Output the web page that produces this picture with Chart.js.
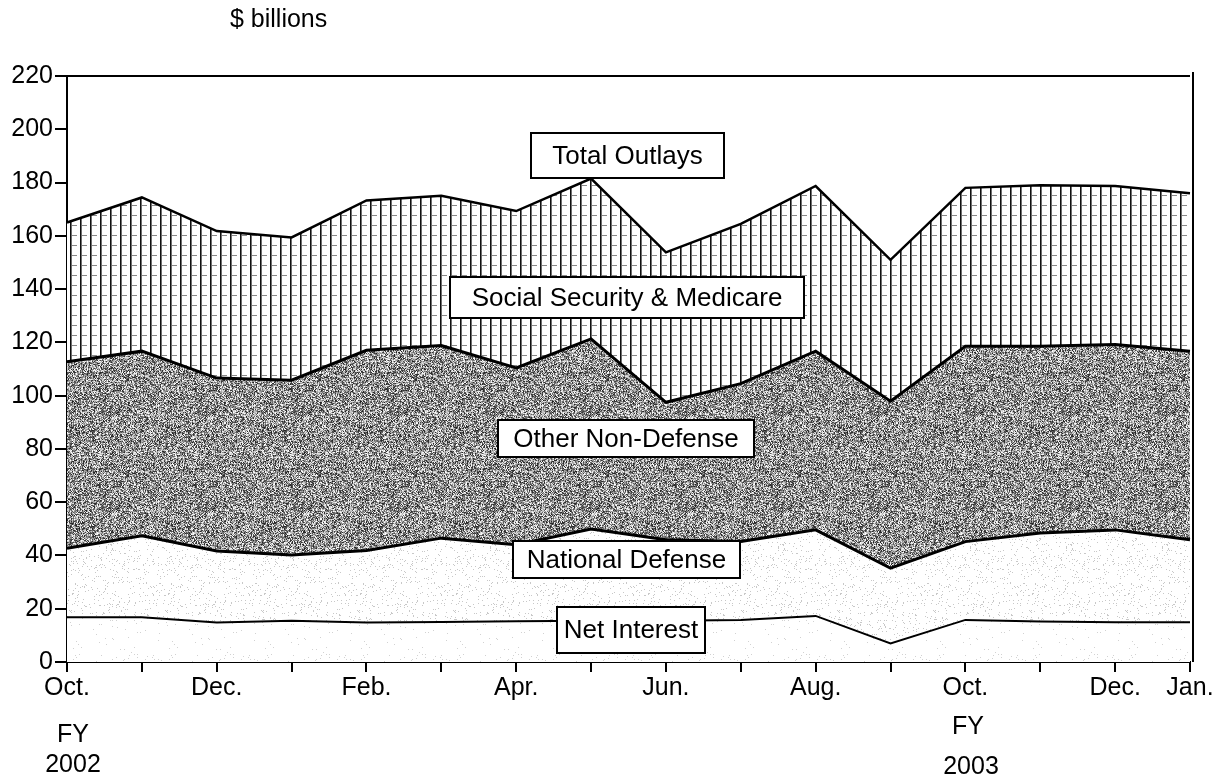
<!DOCTYPE html>
<html>
<head>
<meta charset="utf-8">
<script src="https://cdn.jsdelivr.net/npm/chart.js@4/dist/chart.umd.min.js"></script>
<style>
  body { margin: 0; background: #fff; }
  canvas { display: block; }
</style>
</head>
<body>
<canvas id="myChart" width="1224" height="779"></canvas>
<script>
// setup
const months = ['Oct.', '', 'Dec.', '', 'Feb.', '', 'Apr.', '', 'Jun.', '', 'Aug.', '', 'Oct.', '', 'Dec.', 'Jan.'];
const yTicks = [0, 20, 40, 60, 80, 100, 120, 140, 160, 180, 200, 220];

// $ billions per month, Oct FY2002 .. Jan FY2003
const netInterest = [16.8, 16.8, 14.8, 15.5, 14.8, 15.0, 15.3, 15.5, 15.5, 15.8, 17.3, 7.0, 15.8, 15.2, 14.9, 14.9];
const nationalDefense = [25.9, 30.6, 26.9, 24.7, 27.1, 31.5, 28.7, 34.4, 30.4, 29.4, 32.3, 28.2, 29.4, 33.2, 34.7, 31.0];
const otherNonDefense = [70.0, 69.3, 64.9, 65.6, 75.1, 72.3, 66.4, 71.4, 51.6, 59.3, 67.1, 62.7, 73.3, 70.1, 69.6, 70.8];
const socialSecurity = [52.3, 57.7, 55.2, 53.6, 56.3, 56.2, 58.9, 60.2, 56.3, 60.0, 62.0, 53.1, 59.5, 60.5, 59.5, 59.3];

const FONT = "'Liberation Sans', Arial, Helvetica, sans-serif";

// fill textures
function hash(x, y) {
    let h = (x * 374761393 + y * 668265263) | 0;
    h = (h ^ (h >>> 13)) * 1274126177;
    return ((h ^ (h >>> 16)) >>> 0) / 4294967295;
}

function noiseTile(size, base, spread, darkProb) {
    const c = document.createElement('canvas');
    c.width = size; c.height = size;
    const g = c.getContext('2d');
    const img = g.createImageData(size, size);
    for (let y = 0; y < size; y++) {
        for (let x = 0; x < size; x++) {
            const r = hash(x, y);
            let v = 255;
            if (darkProb < 1) {
                v = r < darkProb ? base : 255;
            } else {
                v = base + (r - 0.5) * spread;
            }
            const i = (y * size + x) * 4;
            img.data[i] = img.data[i + 1] = img.data[i + 2] = Math.max(0, Math.min(255, v));
            img.data[i + 3] = 255;
        }
    }
    g.putImageData(img, 0, 0);
    return c;
}

function gridTile() {
    const c = document.createElement('canvas');
    c.width = 10; c.height = 10;
    const g = c.getContext('2d');
    g.fillStyle = '#fff';
    g.fillRect(0, 0, 10, 10);
    g.fillStyle = '#888';
    g.fillRect(2, 5, 5, 1);
    g.fillStyle = '#111';
    g.fillRect(0, 0, 1.6, 10);
    return c;
}

const ctx = document.getElementById('myChart').getContext('2d');
const patSS = ctx.createPattern(gridTile(), 'repeat');
const patOND = ctx.createPattern(noiseTile(96, 145, 230, 2), 'repeat');
const patND = ctx.createPattern(noiseTile(96, 200, 0, 0.06), 'repeat');
const patNI = ctx.createPattern(noiseTile(96, 210, 0, 0.015), 'repeat');

const data = {
    labels: months,
    datasets: [{
            label: 'Net Interest',
            data: netInterest,
            backgroundColor: patNI,
            borderColor: '#000',
            borderWidth: 2,
            fill: 'origin'
        },
        {
            label: 'National Defense',
            data: nationalDefense,
            backgroundColor: patND,
            borderColor: '#000',
            borderWidth: 3,
            fill: '-1'
        },
        {
            label: 'Other Non-Defense',
            data: otherNonDefense,
            backgroundColor: patOND,
            borderColor: '#000',
            borderWidth: 3,
            fill: '-1'
        },
        {
            label: 'Social Security & Medicare',
            data: socialSecurity,
            backgroundColor: patSS,
            borderColor: '#000',
            borderWidth: 2.5,
            fill: '-1'
        }
    ]
};

// boxed labels, frame and FY captions
const boxes = [
    { text: 'Total Outlays', x1: 531, y1: 133, x2: 724, y2: 178 },
    { text: 'Social Security & Medicare', x1: 450, y1: 277, x2: 804, y2: 318 },
    { text: 'Other Non-Defense', x1: 498, y1: 420, x2: 754, y2: 457 },
    { text: 'National Defense', x1: 513, y1: 541, x2: 740, y2: 578 },
    { text: 'Net Interest', x1: 557, y1: 607, x2: 705, y2: 653 }
];

const decor = {
    id: 'decor',
    afterDraw(chart) {
        const c = chart.ctx;
        const a = chart.chartArea;
        c.save();
        c.strokeStyle = '#000';
        c.lineWidth = 2;
        c.beginPath();
        c.moveTo(a.left, a.top);
        c.lineTo(a.right, a.top);
        c.moveTo(a.right + 3, a.top - 4);
        c.lineTo(a.right + 3, a.bottom);
        c.stroke();

        c.font = '26px ' + FONT;
        c.textAlign = 'center';
        c.textBaseline = 'middle';
        boxes.forEach(b => {
            c.fillStyle = '#fff';
            c.fillRect(b.x1, b.y1, b.x2 - b.x1, b.y2 - b.y1);
            c.lineWidth = 2;
            c.strokeRect(b.x1, b.y1, b.x2 - b.x1, b.y2 - b.y1);
            c.fillStyle = '#000';
            c.fillText(b.text, (b.x1 + b.x2) / 2, (b.y1 + b.y2) / 2 + 1);
        });

        c.font = '25px ' + FONT;
        c.fillText('FY', 73, 735);
        c.fillText('2002', 73, 765);
        c.fillText('FY', 968, 727);
        c.fillText('2003', 971, 767);

        c.textAlign = 'left';
        c.fillText('$ billions', 230, 20);
        c.restore();
    }
};

// config
const config = {
    type: 'line',
    data,
    options: {
        responsive: false,
        animation: false,
        devicePixelRatio: 1,
        layout: {
            padding: { top: 76, right: 34, left: 0, bottom: 0 }
        },
        elements: {
            point: { radius: 0 },
            line: { tension: 0 }
        },
        plugins: {
            legend: { display: false },
            tooltip: { enabled: false },
            filler: { propagate: false }
        },
        scales: {
            x: {
                offset: false,
                afterFit(scale) { scale.height = 117; },
                grid: {
                    drawOnChartArea: false,
                    drawTicks: true,
                    tickLength: 10,
                    color: '#000',
                    lineWidth: 2
                },
                border: { display: true, color: '#000', width: 2 },
                ticks: {
                    autoSkip: false,
                    maxRotation: 0,
                    padding: 1,
                    color: '#000',
                    font: { family: FONT, size: 25 }
                }
            },
            y: {
                stacked: true,
                min: 0,
                max: 220,
                afterFit(scale) { scale.width = 67; },
                afterBuildTicks(scale) {
                    scale.ticks = yTicks.map(v => ({ value: v }));
                },
                grid: {
                    drawOnChartArea: false,
                    drawTicks: true,
                    tickLength: 12,
                    color: '#000',
                    lineWidth: 2
                },
                border: { display: true, color: '#000', width: 2 },
                ticks: {
                    padding: 2,
                    color: '#000',
                    font: { family: FONT, size: 25 }
                }
            }
        }
    },
    plugins: [decor]
};

// render init block
const myChart = new Chart(
    document.getElementById('myChart'),
    config
);
</script>
</body>
</html>
